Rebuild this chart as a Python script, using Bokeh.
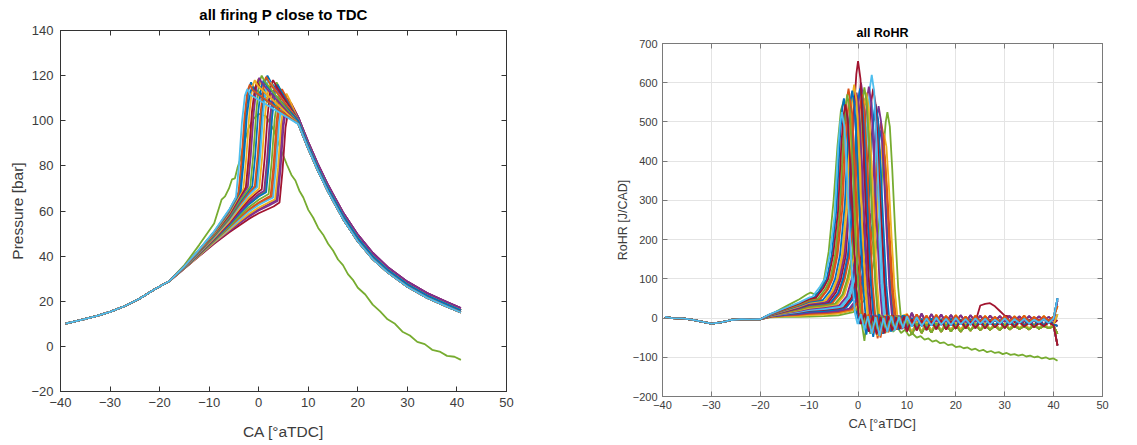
from bokeh.plotting import figure
from bokeh.layouts import row, column
from bokeh.models import LinearAxis, Range1d, FixedTicker, CustomLabelingPolicy
from bokeh.embed import file_html
from bokeh.resources import INLINE

# ---------------- tick labels ----------------
X_TICKS = [-40, -30, -20, -10, 0, 10, 20, 30, 40, 50]
P_TICKS = [-20, 0, 20, 40, 60, 80, 100, 120, 140]
R_TICKS = [-200, -100, 0, 100, 200, 300, 400, 500, 600, 700]

# ---------------- pressure [bar] vs CA ----------------
P_COMP_CA = [-39, -36, -33, -30, -27, -24, -21, -18]
P_COMP = [10.1, 11.6, 13.3, 15.3, 17.9, 21.2, 25.3, 29.0]

P_EXP_CA = [9, 10, 11, 12, 13, 14, 15, 17, 20, 23, 26, 30, 34, 38, 40.8]
P_EXP_LO = [93.0, 87.5, 82.5, 77.5, 73.0, 68.5, 64.5, 56.5, 46.5, 38.7, 32.8, 26.4, 21.5, 17.6, 15.0]
P_EXP_MID = [94.5, 89.0, 84.0, 79.0, 74.5, 70.0, 66.0, 58.0, 48.0, 40.0, 34.0, 27.5, 22.5, 18.6, 16.0]
P_EXP_HI = [96.0, 90.5, 85.5, 80.5, 76.0, 71.5, 67.5, 59.5, 49.5, 41.5, 35.2, 28.7, 23.6, 19.6, 17.0]
P_TAIL_OF = [0, 0, 0, 0, 0, 0, 0, 1, 1, 1, 1, 1, 1, 1, 1, 1, 1, 1, 2, 2,
             0, 0, 1, 1, 1, 2]

P_CYCLE_CA = [
    [-15, -12, -9, -6, -4.6, -4.0, -3.4, -2.8, -2.3, -1.7, 8],
    [-15, -12, -9, -6, -4.1, -3.5, -2.9, -2.3, -1.8, -1.2, 8],
    [-15, -12, -9, -6, -3.6, -3.0, -2.4, -1.8, -1.3, -0.7, 8],
    [-15, -12, -9, -6, -4, -3.1, -2.5, -1.9, -1.3, -0.8, -0.2, 8],
    [-15, -12, -9, -6, -4, -2.6, -2.0, -1.4, -0.8, -0.3, 0.3, 8],
    [-15, -12, -9, -6, -4, -2.2, -1.6, -1.0, -0.4, 0.1, 0.7, 8],
    [-15, -12, -9, -6, -4, -1.7, -1.1, -0.5, 0.1, 0.6, 1.2, 8],
    [-15, -12, -9, -6, -4, -2, -1.3, -0.7, -0.1, 0.5, 1.0, 1.6, 8],
    [-15, -12, -9, -6, -4, -2, -0.8, -0.2, 0.4, 1.0, 1.5, 2.1, 8],
    [-15, -12, -9, -6, -4, -2, -0.3, 0.3, 0.9, 1.5, 2.0, 2.6, 8],
    [-15, -12, -9, -6, -4, -2, 0.1, 0.7, 1.3, 1.9, 2.4, 3.0, 8],
    [-15, -12, -9, -6, -4, -2, 0, 0.6, 1.2, 1.8, 2.4, 2.9, 3.5, 8],
    [-15, -12, -9, -6, -4, -2, 0, 1.1, 1.7, 2.3, 2.9, 3.4, 4.0, 8],
    [-15, -12, -9, -6, -4, -2, 0, 1.5, 2.1, 2.7, 3.3, 3.8, 4.4, 8],
    [-15, -12, -9, -6, -4, -2, 0, 2.0, 2.6, 3.2, 3.8, 4.3, 4.9, 8],
    [-15, -12, -9, -6, -4, -2, 0, 2, 2.4, 3.0, 3.6, 4.2, 4.7, 5.3, 8],
    [-15, -12, -9, -6, -4, -2, 0, 2, 2.9, 3.5, 4.1, 4.7, 5.2, 5.8, 8],
    [-15, -12, -9, -6, -4, -2, 0, 2, 3.3, 3.9, 4.5, 5.1, 5.6, 6.2, 8],
    [-15, -12, -9, -6, -4, -2, 0, 2, 3.8, 4.4, 5.0, 5.6, 6.1, 6.7, 8],
    [-15, -12, -9, -6, -4, -2, 0, 2, 3, 4.2, 4.8, 5.4, 6.0, 6.5, 7.1, 8],
    [-15, -12, -9, -6, -3.85, -3.25, -2.65, -2.05, -1.55, -0.95, 8],
    [-15, -12, -9, -6, -4, -2.4, -1.8, -1.2, -0.6, -0.1, 0.5, 8],
    [-15, -12, -9, -6, -4, -2, -0.55, 0.05, 0.65, 1.25, 1.75, 2.35, 8],
    [-15, -12, -9, -6, -4, -2, 0, 1.3, 1.9, 2.5, 3.1, 3.6, 4.2, 8],
    [-15, -12, -9, -6, -4, -2, 0, 2, 2.65, 3.25, 3.85, 4.45, 4.95, 5.55, 8],
    [-15, -12, -9, -6, -4, -2, 0, 2, 3.55, 4.15, 4.75, 5.35, 5.85, 6.45, 8],
]
P_CYCLE = [
    [35.5, 43.0, 51.0, 60.5, 66.0, 80.0, 99.0, 111.0, 114.0, 111.5, 98.5],
    [35.5, 42.9, 50.7, 60.0, 67.8, 81.8, 100.8, 113.0, 116.0, 113.5, 98.5],
    [35.4, 42.7, 50.5, 59.5, 69.0, 83.0, 102.0, 112.0, 115.0, 112.5, 98.5],
    [35.3, 42.5, 50.1, 58.9, 66.5, 69.8, 83.8, 102.8, 115.0, 118.0, 115.5, 98.5],
    [35.3, 42.4, 49.8, 58.4, 65.7, 70.5, 84.5, 103.5, 114.0, 117.0, 114.5, 98.5],
    [35.2, 42.2, 49.6, 57.9, 65.0, 70.7, 84.7, 103.7, 116.0, 119.0, 116.5, 98.5],
    [35.2, 42.0, 49.2, 57.3, 64.0, 70.9, 84.9, 103.9, 117.0, 120.0, 117.5, 98.5],
    [35.1, 41.9, 49.0, 56.8, 63.3, 69.1, 70.9, 84.9, 103.9, 115.0, 118.0, 115.5, 100.0],
    [35.1, 41.7, 48.7, 56.3, 62.5, 68.1, 70.9, 84.9, 103.9, 116.5, 119.5, 117.0, 100.0],
    [35.0, 41.6, 48.4, 55.8, 61.7, 67.1, 70.6, 84.6, 103.6, 115.0, 118.0, 115.5, 100.0],
    [35.0, 41.4, 48.1, 55.2, 60.8, 65.9, 70.0, 84.0, 103.0, 114.0, 117.0, 114.5, 100.0],
    [34.9, 41.3, 47.8, 54.7, 60.0, 64.9, 68.7, 69.5, 83.5, 102.5, 115.0, 118.0, 115.5, 100.0],
    [34.9, 41.1, 47.5, 54.2, 59.2, 63.9, 67.5, 69.0, 83.0, 102.0, 112.0, 115.0, 112.5, 100.0],
    [34.8, 41.0, 47.3, 53.7, 58.5, 62.9, 66.4, 68.3, 82.3, 101.3, 113.0, 116.0, 113.5, 100.0],
    [34.8, 40.8, 46.9, 53.1, 57.5, 61.7, 65.0, 67.5, 81.5, 100.5, 110.0, 113.0, 110.5, 100.0],
    [34.7, 40.6, 46.7, 52.6, 56.8, 60.7, 63.8, 66.3, 66.7, 80.7, 99.7, 111.0, 114.0, 111.5, 100.0],
    [34.7, 40.5, 46.4, 52.1, 56.0, 59.7, 62.7, 65.0, 65.9, 79.9, 98.9, 108.0, 111.0, 108.5, 100.0],
    [34.6, 40.3, 46.1, 51.6, 55.2, 58.7, 61.5, 63.8, 65.2, 79.2, 98.2, 109.0, 112.0, 109.5, 100.0],
    [34.6, 40.2, 45.8, 51.0, 54.3, 57.5, 60.2, 62.3, 64.5, 78.5, 97.5, 106.0, 109.0, 106.5, 101.5],
    [34.5, 40.0, 45.5, 50.5, 53.5, 56.5, 59.0, 61.0, 62.0, 63.8, 77.8, 96.8, 105.0, 108.0, 105.5, 101.5],
    [35.5, 42.9, 50.8, 60.2, 69.1, 83.1, 102.1, 114.0, 117.0, 114.5, 98.5],
    [35.3, 42.3, 49.7, 58.1, 65.3, 70.5, 84.5, 103.5, 115.5, 118.5, 116.0, 98.5],
    [35.1, 41.7, 48.6, 56.1, 62.1, 67.6, 70.8, 84.8, 103.8, 117.0, 120.0, 117.5, 100.0],
    [34.8, 41.0, 47.4, 54.0, 58.8, 63.4, 66.9, 68.7, 82.7, 101.7, 114.0, 117.0, 114.5, 100.0],
    [34.7, 40.6, 46.5, 52.4, 56.4, 60.2, 63.3, 65.6, 66.3, 80.3, 99.3, 109.5, 112.5, 110.0, 100.0],
    [34.6, 40.2, 45.9, 51.3, 54.7, 58.1, 60.8, 63.0, 64.8, 78.8, 97.8, 107.0, 110.0, 107.5, 101.5],
]

P_OUT_CA = [-15, -12, -9, -7.5, -6.8, -6.0, -5.4, -4.8, -4.3, -3.7, -3.0, -2.0, -1.0, 0.0, 1.5,
            3.0, 4.5, 5.7, 6.6, 7.4, 8.2, 9.0, 10.0, 11.0, 12.0, 13.0, 14.0, 15.0, 16.0, 17.0,
            18.0, 19.0, 20.0, 21.5, 23.0, 24.5, 26.0, 27.5, 29.0, 30.5, 32.0, 33.5, 35.0, 36.5,
            38.0, 39.5, 40.8]
P_OUT = [36.0, 45.0, 54.5, 65.0, 66.5, 70.0, 74.0, 74.5, 79.0, 83.0, 90.0, 97.0, 101.0, 103.0, 102.0,
         96.0, 87.0, 80.5, 76.0, 73.5, 69.0, 66.0, 60.5, 57.0, 52.5, 49.5, 45.5, 42.5, 38.5, 36.0,
         32.0, 29.5, 26.0, 23.0, 18.5, 15.5, 12.0, 10.0, 6.5, 4.8, 2.0, 1.0, -1.5, -2.3,
         -4.2, -4.6, -6.0]

# ---------------- RoHR [J/CAD] vs CA ----------------
R_CA0 = [-39.5, -38, -36, -34, -32, -30, -28, -26, -24, -22, -20]
R_0 = [3, 0, -1, -4, -9, -14, -11, -5, -3, -3.5, -3]

R_CYCLE_CA = [
    [-18, -15, -12, -10, -9.3, -7.8, -6.8, -5.8, -4.8, -4.1, -3.65, -3.3, -2.8, -2.3, -1.7, -1.1, -0.6, -0.1, 0.6, 1.3, 2.0, 2.8, 3.6, 4.4, 5.2, 6.0, 6.8, 7.6, 8.4, 9.2],
    [-18, -15, -12, -10, -8.6, -7.1, -6.1, -5.1, -4.1, -3.4, -2.95, -2.6, -2.1, -1.6, -1.0, -0.4, 0.1, 0.6, 1.4, 2.2, 3.0, 3.8, 4.6, 5.4, 6.2, 7.0, 7.8, 8.6, 9.4],
    [-18, -15, -12, -10, -8.2, -6.7, -5.7, -4.7, -3.7, -3.0, -2.55, -2.2, -1.7, -1.2, -0.6, 0.0, 0.5, 1.0, 1.6, 2.4, 3.2, 4.0, 4.8, 5.6, 6.4, 7.2, 8.0, 8.8, 9.4],
    [-18, -15, -12, -10, -7.7, -6.2, -5.2, -4.2, -3.2, -2.5, -2.05, -1.7, -1.2, -0.7, -0.1, 0.5, 1.0, 1.5, 2.2, 3.0, 3.8, 4.6, 5.4, 6.2, 7.0, 7.8, 8.6, 9.4],
    [-18, -15, -12, -10, -7.2, -5.7, -4.7, -3.7, -2.7, -2.0, -1.55, -1.2, -0.7, -0.2, 0.4, 1.0, 1.5, 2.0, 2.7, 3.5, 4.3, 5.1, 5.9, 6.7, 7.5, 8.3, 9.1],
    [-18, -15, -12, -10, -6.8, -5.3, -4.3, -3.3, -2.3, -1.6, -1.15, -0.8, -0.3, 0.2, 0.8, 1.4, 1.9, 2.4, 3.1, 3.9, 4.7, 5.5, 6.3, 7.1, 7.9, 8.7, 9.4],
    [-18, -15, -12, -10, -7, -6.3, -4.8, -3.8, -2.8, -1.8, -1.1, -0.65, -0.3, 0.2, 0.7, 1.3, 1.9, 2.4, 2.9, 3.6, 4.4, 5.2, 6.0, 6.8, 7.6, 8.4, 9.2],
    [-18, -15, -12, -10, -7, -6.0, -4.5, -3.5, -2.5, -1.5, -0.8, -0.35, 0.0, 0.5, 1.0, 1.6, 2.2, 2.7, 3.2, 3.9, 4.7, 5.5, 6.3, 7.1, 7.9, 8.7, 9.4],
    [-18, -15, -12, -10, -7, -5.6, -4.1, -3.1, -2.1, -1.1, -0.4, 0.05, 0.4, 0.9, 1.4, 2.0, 2.6, 3.1, 3.6, 4.3, 5.1, 5.9, 6.7, 7.5, 8.3, 9.1],
    [-18, -15, -12, -10, -7, -5.2, -3.7, -2.7, -1.7, -0.7, 0.0, 0.45, 0.8, 1.3, 1.8, 2.4, 3.0, 3.5, 4.0, 4.7, 5.5, 6.3, 7.1, 7.9, 8.7, 9.4],
    [-18, -15, -12, -10, -7, -4.7, -3.2, -2.2, -1.2, -0.2, 0.5, 0.95, 1.3, 1.8, 2.3, 2.9, 3.5, 4.0, 4.5, 5.2, 6.0, 6.8, 7.6, 8.4, 9.2],
    [-18, -15, -12, -10, -7, -4.3, -2.8, -1.8, -0.8, 0.2, 0.9, 1.35, 1.7, 2.2, 2.7, 3.3, 3.9, 4.4, 4.9, 5.6, 6.4, 7.2, 8.0, 8.8, 9.5],
    [-18, -15, -12, -10, -7, -3.8, -2.3, -1.3, -0.3, 0.7, 1.4, 1.85, 2.2, 2.7, 3.2, 3.8, 4.4, 4.9, 5.4, 6.1, 6.9, 7.7, 8.5, 9.3],
    [-18, -15, -12, -10, -7, -4, -3.2, -1.7, -0.7, 0.3, 1.3, 2.0, 2.45, 2.8, 3.3, 3.8, 4.4, 5.0, 5.5, 6.0, 6.7, 7.5, 8.3, 9.1],
    [-18, -15, -12, -10, -7, -4, -2.9, -1.4, -0.4, 0.6, 1.6, 2.3, 2.75, 3.1, 3.6, 4.1, 4.7, 5.3, 5.8, 6.3, 7.0, 7.8, 8.6, 9.4],
    [-18, -15, -12, -10, -7, -4, -2.4, -0.9, 0.1, 1.1, 2.1, 2.8, 3.25, 3.6, 4.1, 4.6, 5.2, 5.8, 6.3, 6.8, 7.5, 8.3, 9.1],
    [-18, -15, -12, -10, -7, -4, -1.8, -0.3, 0.7, 1.7, 2.7, 3.4, 3.85, 4.2, 4.7, 5.2, 5.8, 6.4, 6.9, 7.4, 8.1, 8.9, 9.5],
    [-18, -15, -12, -10, -7, -4, -1.3, 0.2, 1.2, 2.2, 3.2, 3.9, 4.35, 4.7, 5.2, 5.7, 6.3, 6.9, 7.4, 7.9, 8.6, 9.4],
    [-18, -15, -12, -10, -7, -4, -0.7, 0.8, 1.8, 2.8, 3.8, 4.5, 4.95, 5.3, 5.8, 6.3, 6.9, 7.5, 8.0, 8.5, 9.2],
    [-18, -15, -12, -10, -7, -4, -1, 0.0, 1.5, 2.5, 3.5, 4.5, 5.2, 5.65, 6.0, 6.5, 7.0, 7.6, 8.2, 8.7, 9.2],
    [-18, -15, -12, -10, -8.9, -7.4, -6.4, -5.4, -4.4, -3.7, -3.25, -2.9, -2.4, -1.9, -1.3, -0.7, -0.2, 0.3, 1.0, 1.7, 2.4, 3.1, 3.8, 4.5, 5.2, 5.9, 6.6, 7.3, 8.0, 8.7, 9.4],
    [-18, -15, -12, -10, -7.95, -6.45, -5.45, -4.45, -3.45, -2.75, -2.3, -1.95, -1.45, -0.95, -0.35, 0.25, 0.75, 1.25, 1.9, 2.6, 3.3, 4.0, 4.7, 5.4, 6.1, 6.8, 7.5, 8.2, 8.9, 9.5],
    [-18, -15, -12, -10, -6.55, -5.05, -4.05, -3.05, -2.05, -1.35, -0.9, -0.55, -0.05, 0.45, 1.05, 1.65, 2.15, 2.65, 3.3, 4.0, 4.7, 5.4, 6.1, 6.8, 7.5, 8.2, 8.9, 9.5],
    [-18, -15, -12, -10, -7, -5.4, -3.9, -2.9, -1.9, -0.9, -0.2, 0.25, 0.6, 1.1, 1.6, 2.2, 2.8, 3.3, 3.8, 4.5, 5.2, 5.9, 6.6, 7.3, 8.0, 8.7, 9.4],
    [-18, -15, -12, -10, -7, -4.5, -3.0, -2.0, -1.0, 0.0, 0.7, 1.15, 1.5, 2.0, 2.5, 3.1, 3.7, 4.2, 4.7, 5.4, 6.1, 6.8, 7.5, 8.2, 8.9, 9.5],
    [-18, -15, -12, -10, -7, -3.5, -2.0, -1.0, 0.0, 1.0, 1.7, 2.15, 2.5, 3.0, 3.5, 4.1, 4.7, 5.2, 5.7, 6.4, 7.1, 7.8, 8.5, 9.2],
    [-18, -15, -12, -10, -7, -4, -2.65, -1.15, -0.15, 0.85, 1.85, 2.55, 3.0, 3.35, 3.85, 4.35, 4.95, 5.55, 6.05, 6.55, 7.2, 7.9, 8.6, 9.3],
    [-18, -15, -12, -10, -7, -4, -1.55, -0.05, 0.95, 1.95, 2.95, 3.65, 4.1, 4.45, 4.95, 5.45, 6.05, 6.65, 7.15, 7.65, 8.3, 9.0, 9.6],
    [-18, -15, -12, -10, -7, -4, -1.0, 0.5, 1.5, 2.5, 3.5, 4.2, 4.65, 5.0, 5.5, 6.0, 6.6, 7.2, 7.7, 8.2, 8.9, 9.6],
]
R_CYCLE = [
    [10, 25, 40, 52, 55, 80, 100, 160, 262, 430, 499, 525, 488, 378, 220, 79, 10, -15, 10, -30, 5, -40, 2, -45, 0, -35, 4, -30, 3, -25],
    [9.4, 23.4, 37.2, 48.4, 52, 76, 100, 160, 272, 447, 518, 545, 507, 392, 229, 82, 10, -15, 12, -35, 6, -42, 3, -38, 5, -32, 2, -28, 4],
    [9.0, 22.4, 35.6, 46.2, 50, 74, 100, 160, 285, 467, 542, 570, 530, 410, 239, 86, 10, -15, 8, -30, 4, -36, 6, -30, 3, -28, 5, -24, 0],
    [8.6, 21.3, 33.7, 43.8, 48, 72, 100, 160, 280, 459, 532, 560, 521, 403, 235, 84, 10, -15, 10, -38, 4, -50, 2, -36, 6, -30, 3, -22],
    [8.2, 20.0, 31.6, 41.2, 46, 70, 100, 160, 290, 476, 551, 580, 539, 418, 244, 87, 10, -15, 6, -32, 8, -40, 4, -34, 2, -28, 5],
    [7.8, 19.1, 30.0, 39.0, 44, 68, 100, 160, 298, 488, 565, 595, 553, 428, 250, 89, 10, -15, 4, -45, 2, -35, 6, -30, 3, -26, 2],
    [7.4, 17.9, 28.1, 36.5, 40, 42, 68, 100, 160, 288, 472, 546, 575, 535, 414, 242, 86, 10, -15, 8, -40, 5, -32, 3, -28, 6, -24],
    [7.2, 17.2, 26.9, 35.0, 39, 41, 66, 100, 160, 328, 537, 622, 655, 609, 472, 275, 98, 10, -15, 5, -36, 4, -30, 8, -26, 4, -20],
    [6.8, 16.2, 25.2, 32.8, 37, 40, 64, 100, 160, 293, 480, 556, 585, 544, 421, 246, 88, 10, -15, 10, -28, 5, -34, 2, -26, 6],
    [6.5, 15.3, 23.7, 30.9, 35, 39, 62, 100, 160, 285, 467, 542, 570, 530, 410, 239, 86, 10, -15, 6, -38, 4, -30, 6, -25, 3],
    [6.0, 14.1, 21.7, 28.2, 32, 37, 60, 100, 160, 294, 482, 559, 588, 547, 423, 247, 88, 10, -15, 4, -32, 6, -28, 3, -24],
    [5.7, 13.1, 20.0, 26.1, 30, 35, 58, 100, 160, 288, 472, 546, 575, 535, 414, 242, 86, 10, -15, 8, -34, 4, -27, 5, -20],
    [5.3, 12.0, 18.2, 23.7, 27, 33, 56, 100, 160, 295, 484, 561, 590, 549, 425, 248, 89, 10, -15, 5, -30, 3, -26, 5],
    [4.8, 10.6, 15.7, 20.5, 23, 27, 30, 54, 100, 160, 310, 508, 589, 620, 577, 446, 260, 93, 10, -15, 4, -32, 6, -25],
    [4.5, 9.8, 14.5, 18.9, 21, 25, 28, 52, 100, 160, 293, 480, 556, 585, 544, 421, 246, 88, 10, -15, 6, -28, 4, -22],
    [4.1, 8.7, 12.5, 16.4, 18, 22, 27, 50, 100, 160, 273, 447, 518, 545, 507, 392, 229, 82, 10, -15, 5, -30, 3],
    [3.6, 7.3, 10.2, 13.3, 15, 18, 24, 48, 100, 160, 270, 443, 513, 540, 502, 389, 227, 81, 10, -15, 6, -28, 2],
    [3.1, 6.1, 8.2, 10.7, 12, 15, 22, 46, 100, 160, 250, 410, 475, 500, 465, 360, 210, 75, 10, -15, 5, -26],
    [2.6, 4.7, 5.8, 7.6, 9, 12, 22, 47, 100, 160, 235, 385, 447, 470, 437, 338, 197, 71, 10, -15, 6],
    [2, 3, 3, 4, 5, 7, 15, 25, 50, 100, 160, 262, 430, 499, 525, 488, 378, 220, 79, 10, -15],
    [9.7, 24.1, 38.4, 49.9, 53, 77, 100, 160, 280, 459, 532, 560, 521, 403, 235, 84, 10, -15, 6, -42, 8, -48, 4, -40, 6, -34, 3, -30, 5, -26, 0],
    [8.8, 21.8, 34.6, 45.0, 47, 71, 100, 160, 293, 480, 556, 585, 544, 421, 246, 88, 10, -15, 9, -36, 5, -52, 3, -38, 7, -32, 2, -27, 4, -18],
    [7.6, 18.5, 29.0, 37.8, 43, 67, 100, 160, 280, 459, 532, 560, 521, 403, 235, 84, 10, -15, 6, -46, 4, -33, 8, -29, 3, -25, 5, -20],
    [6.6, 15.8, 24.5, 31.8, 36, 39, 63, 100, 160, 300, 492, 570, 600, 558, 432, 252, 90, 10, -15, 8, -40, 4, -31, 6, -27, 2, -22],
    [5.9, 13.6, 20.9, 27.2, 31, 36, 60, 100, 160, 280, 459, 532, 560, 521, 403, 235, 84, 10, -15, 5, -36, 7, -30, 3, -26, 2],
    [5.0, 11.3, 16.9, 22.0, 25, 31, 55, 100, 160, 285, 467, 542, 570, 530, 410, 239, 86, 10, -15, 6, -34, 4, -28, 5],
    [4.3, 9.3, 13.5, 17.7, 19, 21, 26, 50, 100, 160, 260, 426, 494, 520, 484, 374, 218, 78, 10, -15, 7, -30, 3, -24],
    [3.3, 6.7, 9.2, 12.0, 13, 16, 22, 46, 100, 160, 240, 394, 456, 480, 446, 346, 202, 72, 10, -15, 6, -28, 2],
    [2.9, 5.4, 7.0, 9.2, 10, 12, 20, 45, 100, 160, 220, 361, 418, 440, 409, 317, 185, 66, 10, -15, 5, -24],
]

R_TAIL_CA = [10, 11, 12, 13, 14, 15, 16, 17, 18, 19, 20, 21, 22, 23, 24, 25, 26, 27, 28, 29,
             30, 31, 32, 33, 34, 35, 36, 37, 38, 39, 40, 40.8]
R_TAILS = [
    [4, -22, 2, -20, -1, -19, 1, -17, -2, -18, 0, -16, -3, -17, -1, -15, -2, -16, -4, -14, -1, -15, -3, -13, -2, -14, -4, -12, -3, -13, -1, 50],
    [-34, -3, -31, -6, -30, -8, -28, -6, -29, -9, -27, -7, -26, -9, -25, -10, -26, -8, -24, -10, -25, -11, -23, -9, -22, -11, -23, -12, -21, -10, -19, -70],
    [-10, -42, -13, -38, -15, -37, -14, -35, -16, -34, -17, -35, -18, -32, -16, -31, -18, -30, -19, -31, -17, -29, -19, -28, -20, -29, -18, -27, -20, -26, -21, -40],
    [10, -15, 9, -13, 6, -14, 8, -11, 5, -12, 7, -10, 4, -12, 6, -10, 5, -9, 3, -11, 5, -9, 4, -8, 6, -10, 3, -8, 5, -7, 4, 30],
    [-27, 0, -25, -2, -26, -1, -24, -3, -23, -2, -22, -4, -23, -3, -21, -5, -22, -4, -20, -5, -21, -6, -20, -5, -19, -6, -20, -7, -18, -6, -17, -20],
    [-7, -37, -9, -35, -10, -33, -11, -32, -12, -31, -11, -30, -13, -31, -12, -29, -13, -28, -14, -29, -13, -27, -14, -26, -15, -27, -14, -26, -15, -25, -16, 10],
    [-17, 13, -15, 11, -13, 10, -11, 9, -12, 8, -10, 7, -11, 7, -9, 6, -10, 6, -8, 5, -9, 5, -7, 4, -8, 5, -7, 4, -6, 3, -7, 45],
    [-30, -7, -27, -5, -25, -6, -24, -5, -23, -7, -22, -5, -20, -6, -10, 32, 36, 38, 30, 18, 6, 4, -11, -3, -15, -5, -17, -4, -16, -5, -14, -5],
]
R_TAIL_OF = [0, 1, 2, 3, 4, 5, 6, 7, 0, 1, 2, 3, 4, 5, 6, 0, 1, 2, 3, 4,
             1, 2, 3, 4, 5, 6, 0, 1, 2]

R_OUT_CA = [-18, -16, -14, -12, -10.5, -9.7, -8.8, -8.0, -7.0, -6.0, -5.0, -4.2, -3.5, -2.9, -2.4,
            -1.8, -1.2, -0.6, -0.1, 0.4, 0.9, 1.3, 1.8, 2.5, 3.2, 4.0, 4.8, 5.6, 6.4, 7.2, 8.0,
            8.8, 9.6, 10.4, 11.2, 12.0, 12.8, 13.6, 14.4, 15.2, 16.0, 16.8, 17.6, 18.4, 19.2,
            20.0, 20.8, 21.6, 22.4, 23.2, 24.0, 24.8, 25.6, 26.4, 27.2, 28.0, 28.8, 29.6, 30.4,
            31.2, 32.0, 32.8, 33.6, 34.4, 35.2, 36.0, 36.8, 37.6, 38.4, 39.2, 40.0, 40.8]
R_OUT = [8, 22, 35, 48, 60, 65, 60, 66, 95, 170, 300, 440, 530, 555, 515,
         400, 240, 90, 15, 8, -25, -58, -5, -40, -10, -45, -15, -38, -18, -35, -22,
         -38, -30, -45, -40, -50, -46, -55, -52, -60, -57, -64, -62, -69, -67,
         -74, -72, -77, -75, -81, -78, -84, -81, -87, -84, -89, -87, -92, -89,
         -94, -92, -96, -93, -98, -96, -100, -98, -103, -100, -105, -103, -109]

# ---------------- styles ----------------
MATLAB_COLORS = ["#0072BD", "#D95319", "#EDB120", "#7E2F8E", "#77AC30", "#4DBEEE", "#A2142F"]
P_COLOR = [5, 1, 0, 2, 6, 3, 4, 0, 1, 5, 2, 6, 3, 0, 4, 1, 5, 2, 3, 6,
           0, 2, 0, 4, 1, 3]
R_COLOR = [5, 6, 4, 1, 0, 2, 3, 6, 0, 1, 4, 2, 3, 5, 6, 0, 3, 1, 2, 4,
           0, 1, 2, 3, 4, 5, 6, 0, 1]
FONT = "Liberation Sans"
LW = 1.8

HIDE_LABELS = "for (const i of indices) { indices.unset(i) }\nreturn indices"


def dress(p, yticks, tick_px, xlab_px, ylab_px, line_col, text_col,
          x_std, y_std, xl_std, yl_std):
    p.outline_line_color = line_col
    p.background_fill_color = "white"
    p.border_fill_color = "white"
    p.add_layout(LinearAxis(), "above")
    p.add_layout(LinearAxis(), "right")
    for ax in list(p.xaxis) + list(p.yaxis):
        ax.axis_line_color = line_col
        ax.major_tick_line_color = line_col
        ax.major_tick_in = 5
        ax.major_tick_out = 0
        ax.minor_tick_line_color = None
        ax.major_label_text_font = FONT
        ax.major_label_text_color = text_col
        ax.major_label_text_font_size = f"{tick_px}px"
        ax.axis_label_text_font = FONT
        ax.axis_label_text_font_style = "normal"
        ax.axis_label_text_color = text_col
    for ax in p.xaxis:
        ax.ticker = FixedTicker(ticks=X_TICKS)
    for ax in p.yaxis:
        ax.ticker = FixedTicker(ticks=yticks)
    bx, lx = p.below[0], p.left[0]
    bx.major_label_standoff = x_std
    lx.major_label_standoff = y_std
    bx.axis_label_standoff = xl_std
    lx.axis_label_standoff = yl_std
    bx.axis_label_text_font_size = f"{xlab_px}px"
    lx.axis_label_text_font_size = f"{ylab_px}px"
    for ax in (p.above[0], p.right[0]):
        ax.major_label_policy = CustomLabelingPolicy(code=HIDE_LABELS)
        ax.major_label_text_font_size = "1px"
        ax.major_label_standoff = 0
    p.title.align = "center"
    p.title.text_font = FONT
    p.title.text_font_style = "bold"
    p.title.text_color = "#000000"


# ---------------- left: pressure ----------------
p1 = figure(width=580, height=445, x_range=Range1d(-40, 50), y_range=Range1d(-20, 140),
            min_border_left=60, min_border_right=74, min_border_top=28, min_border_bottom=54,
            title="all firing P close to TDC", x_axis_label="CA [°aTDC]",
            y_axis_label="Pressure [bar]", output_backend="svg", toolbar_location=None)
dress(p1, P_TICKS, 13, 15.5, 15.5, "#333333", "#3c3c3c", 6, 7, 13, 2)
p1.title.text_font_size = "15px"
p1.title.standoff = 7
p1.xgrid.grid_line_color = None
p1.ygrid.grid_line_color = None

P_EXP = [P_EXP_LO, P_EXP_MID, P_EXP_HI]
p1.line(P_COMP_CA + P_OUT_CA, P_COMP + P_OUT, line_color=MATLAB_COLORS[4], line_width=LW)
for k in reversed(range(len(P_CYCLE))):
    xs = P_COMP_CA + P_CYCLE_CA[k] + P_EXP_CA
    ys = P_COMP + P_CYCLE[k] + P_EXP[P_TAIL_OF[k]]
    p1.line(xs, ys, line_color=MATLAB_COLORS[P_COLOR[k]], line_width=LW)

# ---------------- right: RoHR ----------------
p2 = figure(width=557, height=445, x_range=Range1d(-40, 50), y_range=Range1d(-200, 700),
            min_border_left=82, min_border_right=35, min_border_top=43, min_border_bottom=49,
            title="all RoHR", x_axis_label="CA [°aTDC]", y_axis_label="RoHR [J/CAD]",
            output_backend="svg", toolbar_location=None)
dress(p2, R_TICKS, 11, 13, 12.5, "#7a7a7a", "#3c3c3c", 4, 5, 4, 0)
p2.title.text_font_size = "12.5px"
p2.title.standoff = 0
p2.xgrid.grid_line_color = "#e4e4e4"
p2.ygrid.grid_line_color = "#e4e4e4"

p2.line(R_CA0 + R_OUT_CA, R_0 + R_OUT, line_color=MATLAB_COLORS[4], line_width=LW)
for k in reversed(range(len(R_CYCLE))):
    xs = R_CA0 + R_CYCLE_CA[k] + R_TAIL_CA
    ys = R_0 + R_CYCLE[k] + R_TAILS[R_TAIL_OF[k]]
    p2.line(xs, ys, line_color=MATLAB_COLORS[R_COLOR[k]], line_width=LW)

layout = row(column(p1), column(p2))
open("out.html", "w").write(file_html(layout, INLINE))
